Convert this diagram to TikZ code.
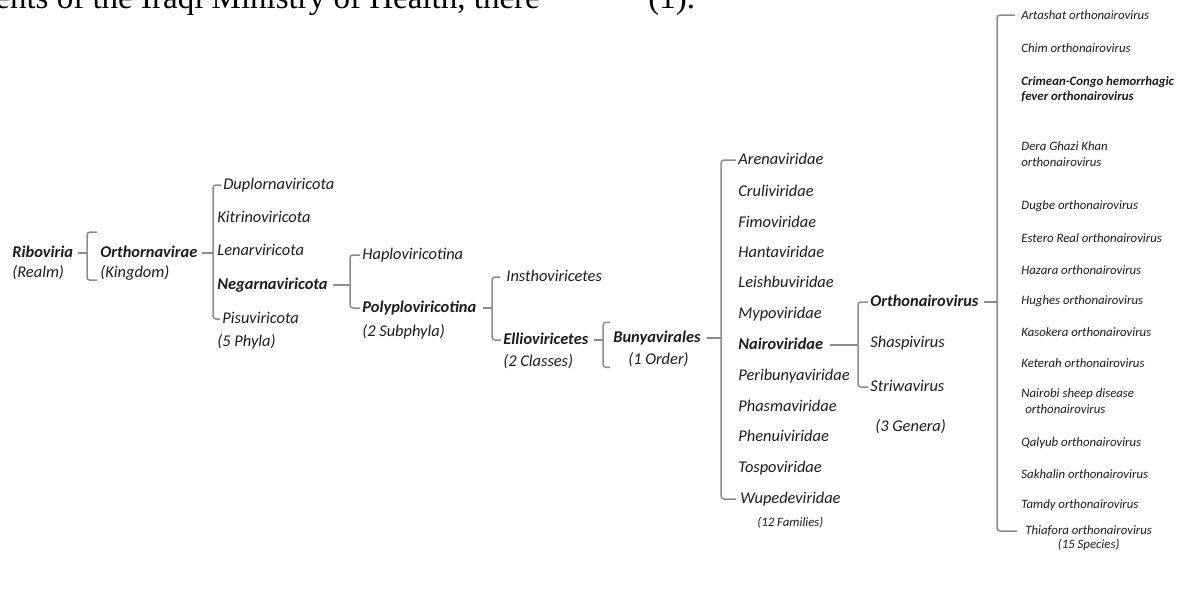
\documentclass[tikz,border=0pt]{standalone}
\usepackage{fontspec}
\setmainfont{Carlito}
\newfontfamily\bodyserif{Liberation Serif}
\definecolor{txtc}{RGB}{28,28,28}
\definecolor{brkgray}{RGB}{140,140,140}

\begin{document}
\begin{tikzpicture}[x=0.5pt, y=-0.5pt,
    tx/.style={anchor=mid west, inner sep=0pt, text=txtc, font=\fontsize{8.2}{10}\selectfont\itshape},
    bx/.style={tx, font=\fontsize{8.2}{10}\selectfont\itshape\bfseries},
    sp/.style={anchor=west, inner sep=0pt, text=txtc, align=left, font=\fontsize{6.4}{7.6}\selectfont\itshape},
    brk/.style={draw=brkgray, line width=0.75pt, rounded corners=1.5pt}]
    \useasboundingbox (0,0) rectangle (1184,607);
    \fill[white] (0,0) rectangle (1184,607);

    % cut-off line of the page above
    \node[anchor=base west, inner sep=0pt, font=\bodyserif\fontsize{16.5}{18}\selectfont] (ln1) at (-5,8) {ents of the Iraqi Ministry of Health, there};
    \node[anchor=base west, inner sep=0pt, font=\bodyserif\fontsize{16.5}{18}\selectfont] (ln2) at (648,8) {(1).};

    \node[bx] (rib) at (12,253) {Riboviria};
    \node[tx] (realm) at (12,273) {(Realm)};
    \node[bx] (orn) at (100,253) {Orthornavirae};
    \node[tx] (kgd) at (100,273) {(Kingdom)};

    \node[tx] (dup) at (223,185) {Duplornaviricota};
    \node[tx] (kit) at (217,218) {Kitrinoviricota};
    \node[tx] (len) at (217,251) {Lenarviricota};
    \node[bx] (neg) at (217,285) {Negarnaviricota};
    \node[tx] (pis) at (222,319) {Pisuviricota};
    \node[tx] (phy) at (217,342) {(5 Phyla)};

    \node[tx] (hap) at (362,255) {Haploviricotina};
    \node[bx] (pol) at (362,308) {Polyploviricotina};
    \node[tx] (sbp) at (362,332) {(2 Subphyla)};

    \node[tx] (ins) at (506,277) {Insthoviricetes};
    \node[bx] (ell) at (503,340) {Ellioviricetes};
    \node[tx] (cls) at (503,362) {(2 Classes)};

    \node[bx] (bun) at (613,338) {Bunyavirales};
    \node[tx] (ord) at (628,360) {(1 Order)};

    \node[tx] (are) at (738,160) {Arenaviridae};
    \node[tx] (cru) at (738,192) {Cruliviridae};
    \node[tx] (fim) at (738,223) {Fimoviridae};
    \node[tx] (han) at (738,253) {Hantaviridae};
    \node[tx] (lei) at (738,283) {Leishbuviridae};
    \node[tx] (myp) at (738,314) {Mypoviridae};
    \node[bx] (nai) at (738,345) {Nairoviridae};
    \node[tx] (per) at (738,376) {Peribunyaviridae};
    \node[tx] (pha) at (738,407) {Phasmaviridae};
    \node[tx] (phe) at (738,437) {Phenuiviridae};
    \node[tx] (tos) at (738,468) {Tospoviridae};
    \node[tx] (wup) at (740,499) {Wupedeviridae};
    \node[sp] (fam) at (757,523) {(12 Families)};

    \node[bx] (ort) at (870,302) {Orthonairovirus};
    \node[tx] (sha) at (870,343) {Shaspivirus};
    \node[tx] (str) at (870,387) {Striwavirus};
    \node[tx] (gen) at (875,427) {(3 Genera)};

    \node[sp] (art) at (1021,15) {Artashat orthonairovirus};
    \node[sp] (chi) at (1021,48) {Chim orthonairovirus};
    \node[sp, font=\fontsize{6.4}{7.6}\selectfont\itshape\bfseries] (cri) at (1021,89) {Crimean-Congo hemorrhagic\\fever orthonairovirus};
    \node[sp] (der) at (1021,154) {Dera Ghazi Khan\\orthonairovirus};
    \node[sp] (dug) at (1021,206) {Dugbe orthonairovirus};
    \node[sp] (est) at (1021,238) {Estero Real orthonairovirus};
    \node[sp] (haz) at (1021,270) {Hazara orthonairovirus};
    \node[sp] (hug) at (1021,301) {Hughes orthonairovirus};
    \node[sp] (kas) at (1021,332) {Kasokera orthonairovirus};
    \node[sp] (ket) at (1021,363) {Keterah orthonairovirus};
    \node[sp] (nsd) at (1021,401) {Nairobi sheep disease\\\hspace{2pt}orthonairovirus};
    \node[sp] (qal) at (1021,443) {Qalyub orthonairovirus};
    \node[sp] (sak) at (1021,474) {Sakhalin orthonairovirus};
    \node[sp] (tam) at (1021,505) {Tamdy orthonairovirus};
    \node[sp] (thi) at (1025,531) {Thiafora orthonairovirus};
    \node[sp, anchor=north] (spc) at ([yshift=-1pt]thi.south) {(15 Species)};

    % brackets
    \coordinate (b1) at (87,0);
    \coordinate (b2) at (213,0);
    \coordinate (b3) at (350,0);
    \coordinate (b4) at (492,0);
    \coordinate (b5) at (603,0);
    \coordinate (b6) at (721,0);
    \coordinate (b7) at (858,0);
    \coordinate (b8) at (997,0);
    \coordinate (o1) at ([shift={(-3,-20)}]orn.west);
    \coordinate (o2) at ([shift={(-3,7)}]kgd.west);
    \coordinate (u1) at ([shift={(-3,-16)}]bun.west);
    \coordinate (u2) at ([shift={(-3,29)}]bun.west);

    \draw[brk] ([xshift=2.5pt]rib.mid east) -- (rib.mid east -| b1);
    \draw[brk] (o1) -- (o1 -| b1) -- (o2 -| b1) -- (o2);

    \draw[brk] ([xshift=2pt]orn.mid east) -- (orn.mid east -| b2);
    \draw[brk] ([xshift=-1pt]dup.mid west) -- (dup.mid west -| b2) -- (pis.mid west -| b2) -- ([xshift=-1pt]pis.mid west);

    \draw[brk] ([xshift=2.5pt]neg.mid east) -- (neg.mid east -| b3);
    \draw[brk] ([xshift=-1pt]hap.mid west) -- (hap.mid west -| b3) -- (pol.mid west -| b3) -- ([xshift=-1pt]pol.mid west);

    \draw[brk] ([xshift=3pt]pol.mid east) -- (pol.mid east -| b4);
    \draw[brk] ([xshift=-3pt]ins.mid west) -- (ins.mid west -| b4) -- (ell.mid west -| b4) -- ([xshift=-1pt]ell.mid west);

    \draw[brk] ([xshift=2.5pt]ell.mid east) -- (ell.mid east -| b5);
    \draw[brk] (u1) -- (u1 -| b5) -- (u2 -| b5) -- (u2);

    \draw[brk] ([xshift=3pt]bun.mid east) -- (bun.mid east -| b6);
    \draw[brk] ([xshift=-1pt]are.mid west) -- (are.mid west -| b6) -- (wup.mid west -| b6) -- ([xshift=-2pt]wup.mid west);

    \draw[brk] ([xshift=3pt]nai.mid east) -- (nai.mid east -| b7);
    \draw[brk] ([xshift=-1pt]ort.mid west) -- (ort.mid west -| b7) -- (str.mid west -| b7) -- ([xshift=-1pt]str.mid west);

    \draw[brk] ([xshift=2.5pt]ort.mid east) -- (ort.mid east -| b8);
    \draw[brk] ([xshift=-3pt]art.west) -- (art.west -| b8) -- (thi.west -| b8) -- ([xshift=-4pt]thi.west);
\end{tikzpicture}
\end{document}
